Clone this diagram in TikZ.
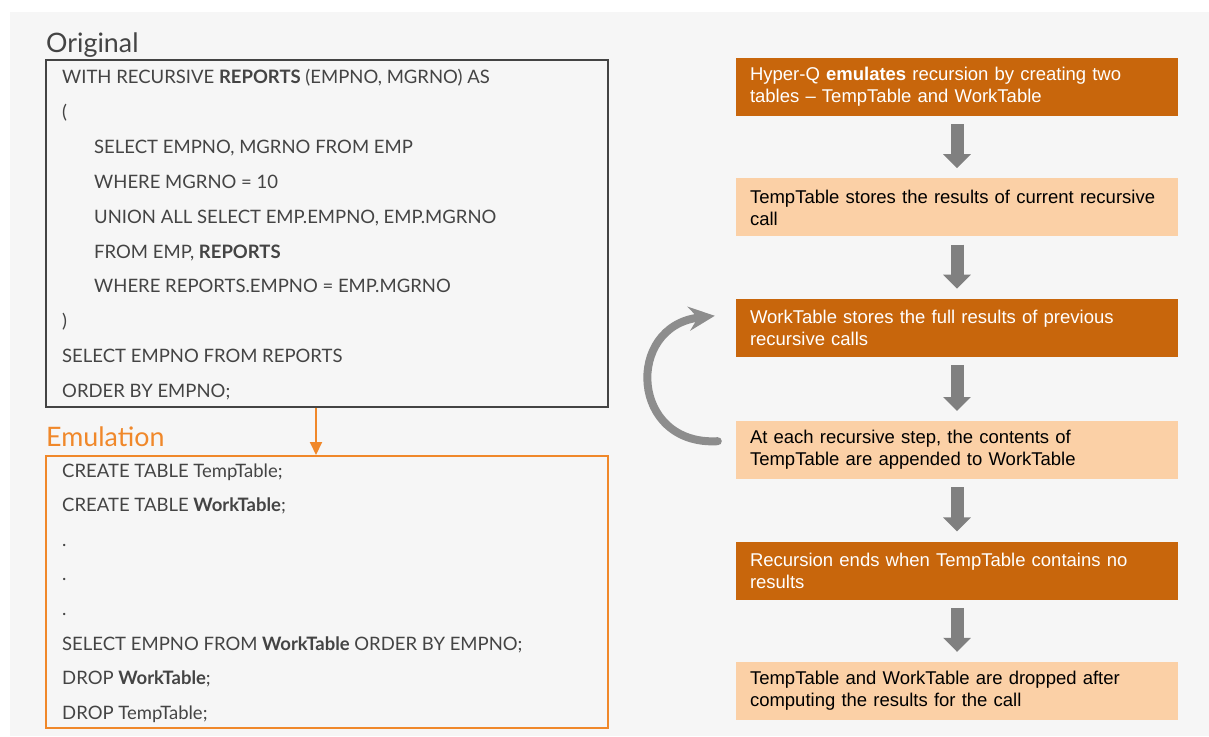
\documentclass[tikz,border=0pt]{standalone}
\usepackage{fontspec}
\setmainfont{Lato}
\newfontfamily\helv{Liberation Sans}
\definecolor{codegray}{HTML}{444444}
\definecolor{emuorange}{HTML}{F0882A}
\definecolor{darkstep}{HTML}{C8660C}
\definecolor{lightstep}{HTML}{FBD0A6}
\definecolor{bggray}{HTML}{F6F6F6}
\definecolor{arrowgray}{HTML}{808080}
\usetikzlibrary{positioning,arrows.meta}

\begin{document}
\begin{tikzpicture}[x=1pt,y=-1pt,
    codeline/.style={anchor=base west,inner sep=0pt,text=codegray,font=\fontsize{18.5}{20}\selectfont},
    heading/.style={anchor=base west,inner sep=0pt,font=\fontsize{26.8}{30}\selectfont},
    codebox/.style={draw,line width=2pt,minimum width=562pt},
    flowbox/.style={minimum height=58pt,text width=414pt,inner xsep=14pt,align=left,
      font=\helv\fontsize{18.5}{22}\selectfont},
    darkbox/.style={flowbox,fill=darkstep,text=white},
    lightbox/.style={flowbox,fill=lightstep,text=black},
    blockarrow/.style={line width=13pt,arrowgray,-{Triangle[length=14pt,width=27pt]},
      shorten <=8pt,shorten >=10pt},
    node distance=62pt
    ]
    \useasboundingbox (0,0) rectangle (1209,736);
    \fill[bggray] (10,12) rectangle (1209,736);

    % left side: the query and its emulation
    \node (orighead) [heading,text=codegray] at (46,52) {Original};
    \node (orig) [codebox,draw=codegray,minimum height=347pt] at (327,233.5) {};
    \node (o1) [codeline] at (62,83) {WITH RECURSIVE \textbf{REPORTS} (EMPNO, MGRNO) AS};
    \node (o2) [codeline] at (62,118) {(};
    \node (o3) [codeline] at (94,153) {SELECT EMPNO, MGRNO FROM EMP};
    \node (o4) [codeline] at (94,188) {WHERE MGRNO = 10};
    \node (o5) [codeline] at (94,223) {UNION ALL SELECT EMP.EMPNO, EMP.MGRNO};
    \node (o6) [codeline] at (94,258) {FROM EMP, \textbf{REPORTS}};
    \node (o7) [codeline] at (94,292) {WHERE REPORTS.EMPNO = EMP.MGRNO};
    \node (o8) [codeline] at (62,327) {)};
    \node (o9) [codeline] at (62,362) {SELECT EMPNO FROM REPORTS};
    \node (o10) [codeline] at (62,397) {ORDER BY EMPNO;};

    \node (emuhead) [heading,text=emuorange] at (46,446) {Emulation};
    \node (emu) [codebox,draw=emuorange,minimum height=272pt] at (327,592) {};
    \node (e1) [codeline] at (62,477) {CREATE TABLE TempTable;};
    \node (e2) [codeline] at (62,511.6) {CREATE TABLE \textbf{WorkTable};};
    \node (e3) [codeline] at (62,546) {.};
    \node (e4) [codeline] at (62,580.8) {.};
    \node (e5) [codeline] at (62,615.4) {.};
    \node (e6) [codeline] at (62,650) {SELECT EMPNO FROM \textbf{WorkTable} ORDER BY EMPNO;};
    \node (e7) [codeline] at (62,684.6) {DROP \textbf{WorkTable};};
    \node (e8) [codeline] at (62,719.2) {DROP TempTable;};

    \draw[emuorange,line width=2pt,-{Triangle[length=13pt,width=12pt]}]
      ([xshift=-11pt]orig.south) -- ([xshift=-11pt]emu.north);

    % right side: the steps
    \node (s1) [darkbox] at (957,87) {Hyper-Q \textbf{emulates} recursion by creating two\\tables \textendash{} TempTable and WorkTable};
    \node (s2) [lightbox,below=of s1] {TempTable stores the results of current recursive\\call};
    \node (s3) [darkbox,below=of s2] {WorkTable stores the full results of previous\\recursive calls};
    \node (s4) [lightbox,below=64pt of s3] {At each recursive step, the contents of\\TempTable are appended to WorkTable};
    \node (s5) [darkbox,below=of s4] {Recursion ends when TempTable contains no\\results};
    \node (s6) [lightbox,below=of s5] {TempTable and WorkTable are dropped after\\computing the results for the call};

    \draw[blockarrow] (s1) -- (s2);
    \draw[blockarrow] (s2) -- (s3);
    \draw[blockarrow] (s3) -- (s4);
    \draw[blockarrow] (s4) -- (s5);
    \draw[blockarrow] (s5) -- (s6);

    % the loop back
    \draw[line width=8pt,arrowgray!90,line cap=round,-{Stealth[length=26pt,width=24pt,inset=9pt]}]
      ([xshift=-18pt,yshift=9pt]s4.west) .. controls +(-88,5) and +(-90,10) .. ([xshift=-21pt,yshift=12pt]s3.west);
\end{tikzpicture}
\end{document}
